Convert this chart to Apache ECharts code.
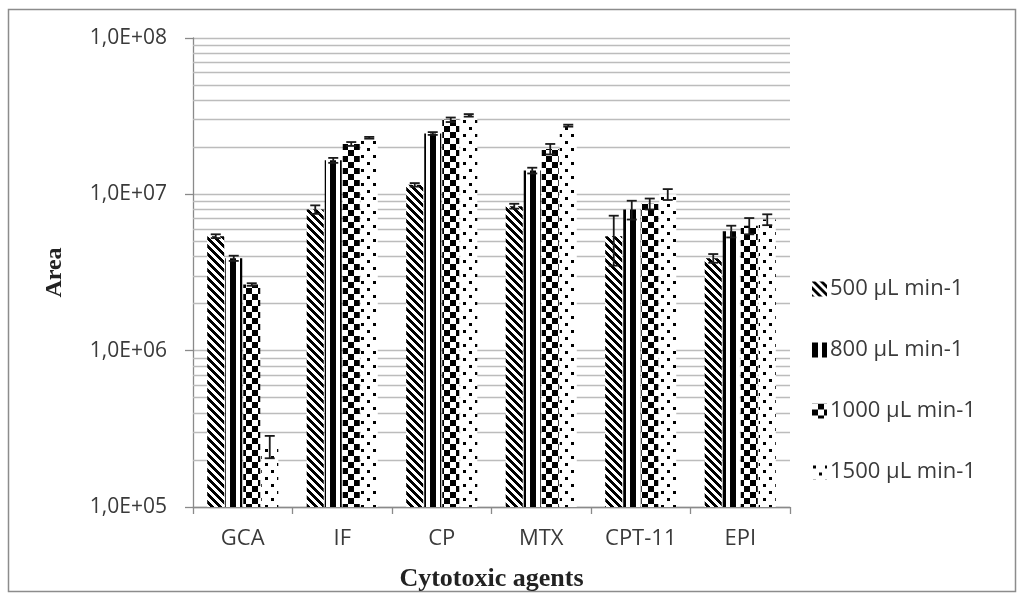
<!DOCTYPE html>
<html>
<head>
<meta charset="utf-8">
<script src="https://cdn.jsdelivr.net/npm/echarts@6/dist/echarts.min.js"></script>
<style>
html,body{margin:0;padding:0;background:#fff;}
#chart{width:1024px;height:600px;}
</style>
</head>
<body>
<div id="chart"></div>
<script>
// ---- data ----
const categories = ['GCA', 'IF', 'CP', 'MTX', 'CPT-11', 'EPI'];
const seriesNames = ['500 µL min-1', '800 µL min-1', '1000 µL min-1', '1500 µL min-1'];
const flow500  = [5.4e6, 8.0e6, 1.15e7, 8.4e6, 5.4e6, 3.9e6];
const flow800  = [3.9e6, 1.65e7, 2.45e7, 1.42e7, 8.0e6, 5.8e6];
const flow1000 = [2.65e6, 2.1e7, 3.0e7, 1.95e7, 8.7e6, 6.3e6];
const flow1500 = [2.45e5, 2.3e7, 3.2e7, 2.75e7, 1.0e7, 6.9e6];
const err500  = [1.5e5, 5e5, 3e5, 3e5, 1.9e6, 2.5e5];
const err800  = [1.5e5, 6e5, 5e5, 6e5, 1.1e6, 5e5];
const err1000 = [5e4, 6e5, 1.0e6, 1.5e6, 7e5, 7.5e5];
const err1500 = [4e4, 3e5, 6e5, 4e5, 8e5, 5.5e5];
const yTickValues = [1e5, 1e6, 1e7, 1e8];
const yTickLabels = ['1,0E+05', '1,0E+06', '1,0E+07', '1,0E+08'];
const minorGridValues = [2e5,3e5,4e5,5e5,6e5,7e5,8e5,9e5,2e6,3e6,4e6,5e6,6e6,7e6,8e6,9e6,2e7,3e7,4e7,5e7,6e7,7e7,8e7,9e7];
const xAxisTitle = 'Cytotoxic agents';
const yAxisTitle = 'Area';

// ---- patterns ----
function makePattern(w, h, fn) {
  const c = document.createElement('canvas');
  c.width = w; c.height = h;
  const ctx = c.getContext('2d');
  ctx.fillStyle = '#fff';
  ctx.fillRect(0, 0, w, h);
  ctx.fillStyle = '#000';
  for (let y = 0; y < h; y++) for (let x = 0; x < w; x++) if (fn(x, y)) ctx.fillRect(x, y, 1, 1);
  return { image: c, repeat: 'repeat' };
}
const pat500 = makePattern(8, 8, (x, y) => (((x - y) % 8) + 8) % 8 < 4);
const pat800 = makePattern(10, 4, (x, y) => x < 6);
const pat1000 = makePattern(12, 12, (x, y) => ((x < 6) !== (y < 6)));
const pat1500 = makePattern(12, 14, (x, y) => (x >= 1 && x < 4 && y >= 1 && y < 4) || (x >= 7 && x < 10 && y >= 8 && y < 11));
const patterns = [pat500, pat800, pat1000, pat1500];
const values = [flow500, flow800, flow1000, flow1500];
const errors = [err500, err800, err1000, err1500];

const BAR_W = 17, BAR_GAP = 1;

const errData = [];
values.forEach((arr, s) => arr.forEach((v, i) => {
  errData.push([i, v - errors[s][i], v + errors[s][i], s]);
}));

const chart = echarts.init(document.getElementById('chart'));
const labelFont = '"Open Sans", sans-serif';
const titleFont = '"Liberation Serif", "Times New Roman", serif';

const series = values.map((arr, s) => ({
  name: seriesNames[s],
  type: 'bar',
  data: arr,
  barWidth: BAR_W,
  barGap: '6%',
  z: 3,
  itemStyle: { color: patterns[s] },
  emphasis: { disabled: true }
}));

series.push({
  name: 'grid',
  type: 'line',
  data: categories.map(() => null),
  symbol: 'none',
  silent: true,
  z: 1,
  markLine: {
    silent: true,
    z: 1,
    symbol: 'none',
    label: { show: false },
    animation: false,
    emphasis: { disabled: true },
    lineStyle: { color: '#bcbcbc', width: 1.3, type: 'solid' },
    data: minorGridValues.map(v => ({ yAxis: v }))
  }
});

series.push({
  name: 'errors',
  type: 'custom',
  z: 5,
  silent: true,
  data: errData,
  renderItem: function (params, api) {
    const i = api.value(0), lo = api.value(1), hi = api.value(2), s = api.value(3);
    const pHi = api.coord([i, hi]);
    const pLo = api.coord([i, lo]);
    const x = pHi[0] + (s - 1.5) * (BAR_W + BAR_GAP);
    const cap = 5;
    const st = { stroke: '#1a1a1a', lineWidth: 1.8 };
    return {
      type: 'group',
      children: [
        { type: 'line', shape: { x1: x, y1: pHi[1], x2: x, y2: pLo[1] }, style: st },
        { type: 'line', shape: { x1: x - cap, y1: pHi[1], x2: x + cap, y2: pHi[1] }, style: st },
        { type: 'line', shape: { x1: x - cap, y1: pLo[1], x2: x + cap, y2: pLo[1] }, style: st }
      ]
    };
  }
});

chart.setOption({
  animation: false,
  backgroundColor: '#fff',
  grid: { left: 193, right: 234, top: 38, bottom: 93, containLabel: false },
  legend: {
    data: seriesNames,
    orient: 'vertical',
    left: 807,
    top: 273,
    itemWidth: 15,
    itemHeight: 15,
    itemGap: 39,
    icon: 'rect',
    selectedMode: false,
    textStyle: { fontFamily: labelFont, fontSize: 22, color: '#3a3a3a', padding: [0, 0, 0, -2] }
  },
  xAxis: {
    type: 'category',
    data: categories,
    name: xAxisTitle,
    nameLocation: 'middle',
    nameGap: 59,
    nameTextStyle: { fontFamily: titleFont, fontWeight: 'bold', fontSize: 26, color: '#222' },
    axisLine: { lineStyle: { color: '#8a8a8a', width: 1.3 } },
    axisTick: { show: true, length: 7, lineStyle: { color: '#8a8a8a', width: 1.3 } },
    axisLabel: { fontFamily: labelFont, fontSize: 22, color: '#3a3a3a', margin: 21 },
    splitLine: { show: false }
  },
  yAxis: {
    type: 'log',
    logBase: 10,
    min: 1e5,
    max: 1e8,
    interval: 1,
    name: yAxisTitle,
    nameLocation: 'middle',
    nameGap: 126,
    nameRotate: 90,
    nameTextStyle: { fontFamily: titleFont, fontWeight: 'bold', fontSize: 24, color: '#222' },
    axisLine: { show: true, lineStyle: { color: '#8a8a8a', width: 1.3 } },
    axisTick: { show: true, inside: false, length: 8, lineStyle: { color: '#8a8a8a', width: 1.3 } },
    axisLabel: {
      fontFamily: labelFont, fontSize: 21, color: '#3a3a3a', margin: 26,
      formatter: function (v) {
        const idx = yTickValues.findIndex(t => Math.abs(Math.log10(t) - Math.log10(v)) < 1e-6);
        return idx >= 0 ? yTickLabels[idx] : '';
      }
    },
    splitLine: { show: true, lineStyle: { color: '#bcbcbc', width: 1.3 } }
  },
  graphic: [{
    type: 'rect',
    shape: { x: 8.5, y: 9.5, width: 1007, height: 582 },
    style: { fill: null, stroke: '#8c8c8c', lineWidth: 1.5 },
    silent: true,
    z: 0
  }],
  series: series
});
</script>
</body>
</html>
